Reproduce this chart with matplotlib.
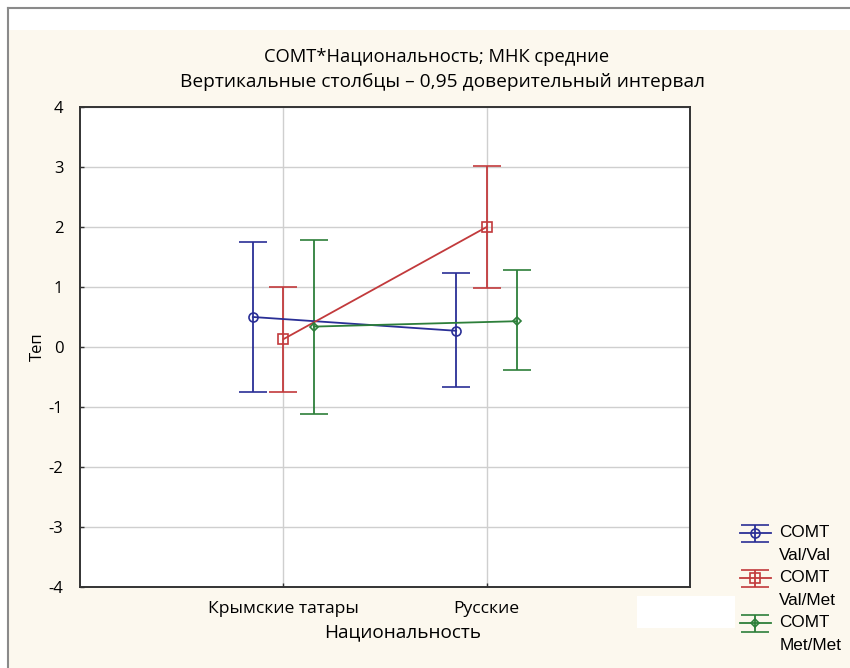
import numpy as np
import matplotlib.pyplot as plt
import matplotlib.transforms as mtransforms
from matplotlib.lines import Line2D
from matplotlib.patches import Rectangle
from matplotlib.offsetbox import DrawingArea

# data
categories = ['Крымские татары', 'Русские']
series = ['COMT\nVal/Val', 'COMT\nVal/Met', 'COMT\nMet/Met']
means = [[0.50, 0.27], [0.13, 2.00], [0.34, 0.43]]
lower = [[-0.75, -0.66], [-0.75, 0.98], [-1.12, -0.39]]
upper = [[1.75, 1.23], [1.00, 3.02], [1.78, 1.28]]

colors = ['#2a2f96', '#c23a3c', '#2d7f3a']
markers = ['o', 's', 'D']
msizes = [6.5, 6.5, 4]
offsets = [-0.15, 0.0, 0.15]

bg = '#fcf8ee'
font = ['Open Sans', 'DejaVu Sans']
plt.rcParams['font.family'] = font

fig = plt.figure(figsize=(8.5, 6.68), dpi=100, facecolor='white')

# cream panel and frame lines like the screenshot
fig.patches.append(Rectangle((9 / 850, 0), 1, 1 - 30 / 668, transform=fig.transFigure,
                             facecolor=bg, edgecolor='none', zorder=-2))
fig.lines.append(Line2D([8 / 850, 1], [1 - 8 / 668, 1 - 8 / 668], transform=fig.transFigure,
                        color='#8a8a8a', lw=1.5, zorder=-1))
fig.lines.append(Line2D([8 / 850, 8 / 850], [0, 1 - 8 / 668], transform=fig.transFigure,
                        color='#8a8a8a', lw=1.5, zorder=-1))
fig.patches.append(Rectangle((637 / 850, 1 - 628 / 668), 98 / 850, 32 / 668,
                             transform=fig.transFigure, facecolor='white',
                             edgecolor='none', zorder=-1))

ax = fig.add_axes([80 / 850, 1 - 587 / 668, 610 / 850, 480 / 668])
ax.set_zorder(2)
ax.set_facecolor('white')

x = np.arange(len(categories))
for i in range(len(series)):
    xs = x + offsets[i]
    m = np.array(means[i])
    err = [m - np.array(lower[i]), np.array(upper[i]) - m]
    ax.errorbar(xs, m, yerr=err, color=colors[i], marker=markers[i], ms=msizes[i],
                mfc='none', mec=colors[i], mew=1.2, lw=1.3, capsize=10, capthick=1.3,
                elinewidth=1.3, label=series[i], zorder=3)

ax.set_xlim(-1, 2)
ax.set_ylim(-4, 4)
ax.set_xticks(x)
ax.set_xticklabels(categories, fontsize=12.6)
ax.set_yticks(np.arange(-4, 5, 1))
ax.set_yticklabels([str(v) for v in range(-4, 5)], fontsize=12)
ax.grid(True, color='#cfcfcf', lw=1)
ax.set_axisbelow(True)
ax.tick_params(direction='in', length=3, width=1, color='#333333', pad=12)
ax.tick_params(axis='x', pad=10)
for s in ax.spines.values():
    s.set_color('#333333')
    s.set_linewidth(1.4)

ax.set_ylabel('Теп', fontsize=12, labelpad=2)
ax.set_xlabel('Национальность', fontsize=13.7, labelpad=2)
ax.xaxis.set_label_coords((403 - 80) / 610, -0.075)

fig.text(437 / 850, 1 - 57 / 668, 'COMT*Национальность; МНК средние',
         ha='center', va='center', fontsize=13.2)
fig.text(443 / 850, 1 - 82 / 668, 'Вертикальные столбцы – 0,95 доверительный интервал',
         ha='center', va='center', fontsize=13.8)

leg = fig.legend(loc='upper left', bbox_to_anchor=(740 / 850, 1 - 525 / 668),
                 frameon=False, prop={'family': 'Liberation Sans', 'size': 12.3},
                 handlelength=1.8, handletextpad=0.5, labelspacing=0.4,
                 borderaxespad=0, borderpad=0)
for t in leg.get_texts():
    t.set_linespacing(1.68)
# move the legend symbols up to the first text line
for da in leg.findobj(DrawingArea):
    for a in da.get_children():
        a.set_transform(a.get_transform() + mtransforms.Affine2D().translate(0, 11))

fig.savefig('out.png', dpi=100, facecolor=fig.get_facecolor())
